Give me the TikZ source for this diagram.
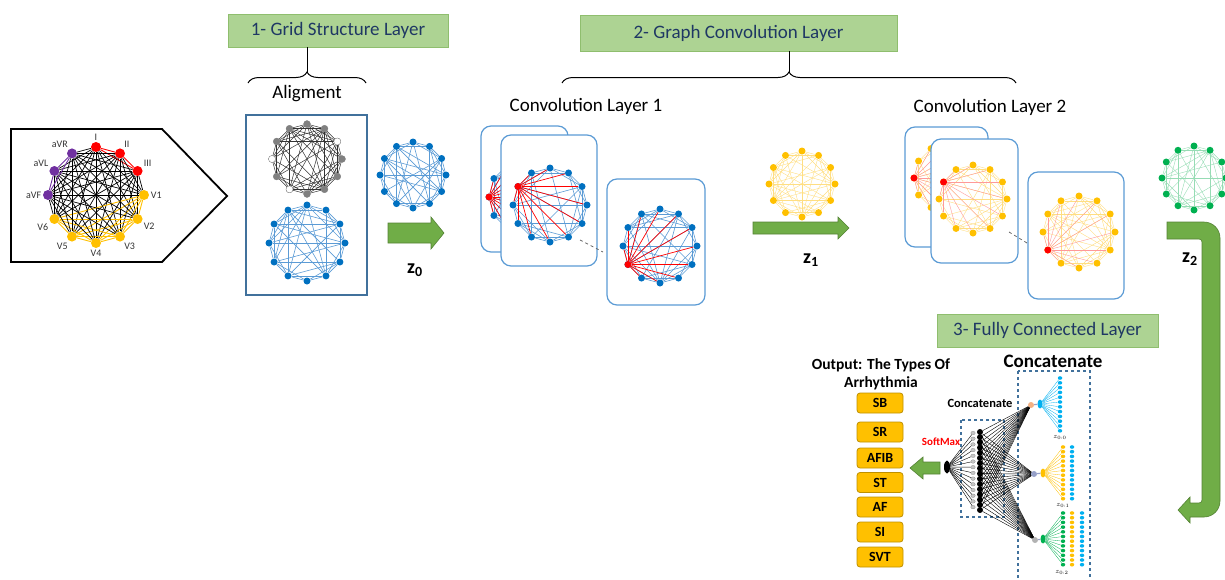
\documentclass[tikz,border=0pt]{standalone}
\usepackage{fontspec}
\setmainfont{Carlito}
\usetikzlibrary{arrows.meta, positioning, calc, decorations.pathreplacing, shapes.geometric}

\definecolor{titlegreen}{RGB}{173,211,147}
\definecolor{titleedge}{RGB}{143,190,110}
\definecolor{titleink}{RGB}{31,56,100}
\definecolor{netblue}{RGB}{0,112,192}
\definecolor{edgeblue}{RGB}{91,155,213}
\definecolor{cardblue}{RGB}{91,155,213}
\definecolor{boxblue}{RGB}{65,113,156}
\definecolor{ecgyellow}{RGB}{255,192,0}
\definecolor{paleyellow}{RGB}{255,222,130}
\definecolor{ecgpurple}{RGB}{112,48,160}
\definecolor{ecggreen}{RGB}{0,176,80}
\definecolor{palegreen}{RGB}{150,220,180}
\definecolor{arrowgreen}{RGB}{112,173,71}
\definecolor{arrowedge}{RGB}{84,130,53}
\definecolor{classedge}{RGB}{191,144,0}
\definecolor{skyblue}{RGB}{0,176,240}
\definecolor{salmon}{RGB}{244,177,131}
\definecolor{slate}{RGB}{150,160,200}

% 12 dots on a circle, ring edges always, other chords at random
% #1 name, #2 cx, #3 cy, #4 radius, #5 dot style, #6 edge style, #7 seed, #8 density
\newcommand{\ringgraph}[8]{%
  \foreach \i in {1,...,12}{
    \node[#5] (#1-\i) at ({#2+#4*cos(90-30*(\i-1))},{#3-#4*sin(90-30*(\i-1))}) {};
  }
  \pgfmathsetseed{#7}
  \foreach \i in {1,...,11}{
    \pgfmathtruncatemacro{\jfrom}{\i+1}
    \foreach \j in {\jfrom,...,12}{
      \pgfmathtruncatemacro{\gap}{min(\j-\i,12-\j+\i)}
      \pgfmathsetmacro{\coin}{rnd}
      \pgfmathtruncatemacro{\keep}{or(\gap<3,\coin<#8)}
      \ifnum\keep=1 \draw[#6] (#1-\i) -- (#1-\j);\fi
    }
  }
}

\begin{document}
\begin{tikzpicture}[x=1pt, y=-1pt,
    ttl/.style={draw=titleedge, fill=titlegreen, text=titleink, inner sep=0,
                font=\fontsize{19}{22}\selectfont},
    hdr/.style={font=\fontsize{19}{22}\selectfont},
    lead/.style={circle, inner sep=0, minimum size=10},
    leadtxt/.style={font=\fontsize{10}{12}\selectfont, text=black!80, inner sep=1.5},
    bdot/.style={circle, inner sep=0, minimum size=7, fill=netblue},
    ydot/.style={circle, inner sep=0, minimum size=7, fill=ecgyellow},
    gdot/.style={circle, inner sep=0, minimum size=7, fill=ecggreen},
    kdot/.style={circle, inner sep=0, minimum size=7, fill=gray, draw=gray, line width=0.3},
    bedge/.style={edgeblue, line width=0.6},
    yedge/.style={paleyellow, line width=0.4},
    gedge/.style={palegreen, line width=0.4},
    kedge/.style={black!80, line width=0.5},
    hot/.style={red, line width=0.7},
    softhot/.style={red!40, line width=0.4},
    card/.style={draw=cardblue, fill=white, line width=1.2, rounded corners=10},
    garrow/.style={fill=arrowgreen, draw=arrowedge, line width=0.6},
    zlbl/.style={font=\fontsize{20}{22}\selectfont\bfseries},
    cls/.style={draw=classedge, fill=ecgyellow, rounded corners=3, line width=0.8,
                minimum width=46, minimum height=20, inner sep=0,
                font=\fontsize{14}{16}\selectfont\bfseries},
    wire/.style={black, line width=0.4},
    colbox/.style={boxblue, dashed, line width=1.1},
    coldot/.style={ellipse, inner sep=0, minimum width=4.5, minimum height=3.6},
    tinylbl/.style={font=\fontsize{7}{8}\selectfont, inner sep=0}
  ]
  \useasboundingbox (0,0) rectangle (1225,579);
  \clip (0,0) rectangle (1225,579);

  % layer titles and braces
  \node[ttl, minimum width=220, minimum height=33] (ttlA) at (338,30.5) {1- Grid Structure Layer};
  \node[ttl, minimum width=317, minimum height=36] (ttlB) at (738.5,33) {2- Graph Convolution Layer};
  \node[ttl, minimum width=221, minimum height=33] (ttlC) at (1047.5,330.5) {3- Fully Connected Layer};
  \draw[decorate, decoration={brace, amplitude=11}, line width=1] (248,83) -- (366,83);
  \draw[decorate, decoration={brace, amplitude=11}, line width=1] (562,83) -- (1016,83);
  \coordinate (tipA) at (307,72);
  \coordinate (tipB) at (789,72);
  \draw[line width=1] (tipA) -- (tipA |- ttlA.south);
  \draw[line width=1] (tipB) -- (tipB |- ttlB.south);
  \node[hdr] (alig) at (307,94) {Aligment};
  \node[hdr] (conv1) at (586,106) {Convolution Layer 1};
  \node[hdr] (conv2) at (990,107) {Convolution Layer 2};

  % ECG leads
  \draw[line width=1.8] (11,129) -- (162,129) -- (227,196) -- (162,262) -- (11,262) -- cycle;
  \foreach \i/\lbl/\col in {1/I/red, 2/II/red, 3/III/red, 4/V1/ecgyellow, 5/V2/ecgyellow,
      6/V3/ecgyellow, 7/V4/ecgyellow, 8/V5/ecgyellow, 9/V6/ecgyellow,
      10/aVF/ecgpurple, 11/aVL/ecgpurple, 12/aVR/ecgpurple}{
    \pgfmathsetmacro{\ang}{90-30*(\i-1)}
    \node[lead, fill=\col, label={[leadtxt]\ang:\lbl}] (in-\i) at ({96+48*cos(\ang)},{195-48*sin(\ang)}) {};
  }
  \foreach \i in {1,...,11}{
    \pgfmathtruncatemacro{\jfrom}{\i+1}
    \foreach \j in {\jfrom,...,12}{
      \pgfmathtruncatemacro{\gi}{(\i>3)+(\i>9)}
      \pgfmathtruncatemacro{\gj}{(\j>3)+(\j>9)}
      \ifnum\gi=\gj
        \edef\ecol{\ifcase\gi red\or ecgyellow\or ecgpurple\fi}
        \draw[draw=\ecol, line width=0.9] (in-\i) -- (in-\j);
      \else
        \draw[black, line width=0.7] (in-\i) -- (in-\j);
      \fi
    }
  }

  % alignment
  \node[draw=boxblue, line width=2.5, minimum width=121, minimum height=180] (alignbox) at (306.5,205) {};
  \ringgraph{K}{307}{159}{35}{kdot}{kedge}{7}{0.75}
  \foreach \k in {3,8,10}{\node[kdot, fill=white] (Kw-\k) at (K-\k) {};}
  \ringgraph{L}{307}{243}{38}{bdot}{bedge}{11}{0.45}

  % z0
  \ringgraph{Z}{413}{175}{33}{bdot}{bedge}{23}{0.45}
  \draw[garrow] (388,223) -- (431,223) -- (431,217) -- (444,233) -- (431,249) -- (431,243) -- (388,243) -- cycle;
  \node[zlbl] (zlab0) at (415,270) {z\textsubscript{0}};

  % convolution layer 1
  \node[card, minimum width=87, minimum height=126] (cardA) at (524.5,189) {};
  \ringgraph{A}{526}{197}{37}{bdot}{bedge}{31}{0.4}
  \node[bdot, fill=red] (A-hot) at (A-10) {};
  \foreach \k in {1,...,9,11,12} \draw[hot] (A-hot) -- (A-\k);
  \node[card, minimum width=96, minimum height=131] (cardB) at (549,200.5) {};
  \ringgraph{B}{550}{205}{37}{bdot}{bedge}{37}{0.4}
  \node[bdot, fill=red] (B-hot) at (B-11) {};
  \foreach \k in {1,...,10,12} \draw[hot] (B-hot) -- (B-\k);
  \node[card, minimum width=98, minimum height=126] (cardC) at (656,242) {};
  \ringgraph{C}{660}{246}{37}{bdot}{bedge}{41}{0.4}
  \node[bdot, fill=red] (C-hot) at (C-9) {};
  \foreach \k in {1,...,8,10,11,12} \draw[hot] (C-hot) -- (C-\k);
  \coordinate (gapB) at (580,240);
  \coordinate (gapC) at (603,252);
  \draw[dashed, black!60, line width=0.8] (gapB) -- (gapC);

  % z1
  \ringgraph{Y}{802}{184}{33}{ydot}{yedge}{53}{0.55}
  \draw[garrow] (753,222) -- (838,222) -- (838,217) -- (849,228) -- (838,239) -- (838,234) -- (753,234) -- cycle;
  \node[zlbl] (zlab1) at (811,260) {z\textsubscript{1}};

  % convolution layer 2
  \node[card, minimum width=83, minimum height=120] (cardD) at (946.5,187) {};
  \ringgraph{D}{948}{178}{34}{ydot}{yedge}{61}{0.5}
  \node[ydot, fill=red] (D-hot) at (D-10) {};
  \foreach \k in {1,...,9,11,12} \draw[softhot] (D-hot) -- (D-\k);
  \node[card, minimum width=87, minimum height=124] (cardE) at (974.5,201) {};
  \ringgraph{E}{973}{199}{34}{ydot}{yedge}{67}{0.5}
  \node[ydot, fill=red] (E-hot) at (E-11) {};
  \foreach \k in {1,...,10,12} \draw[softhot] (E-hot) -- (E-\k);
  \node[card, minimum width=96, minimum height=127] (cardF) at (1076,235.5) {};
  \ringgraph{F}{1079}{232}{36}{ydot}{yedge}{71}{0.5}
  \node[ydot, fill=red] (F-hot) at (F-9) {};
  \foreach \k in {1,...,8,10,11,12} \draw[softhot] (F-hot) -- (F-\k);
  \coordinate (gapE) at (1009,232);
  \coordinate (gapF) at (1027,243);
  \draw[dashed, black!60, line width=0.8] (gapE) -- (gapF);

  % z2 and the turn down
  \ringgraph{G}{1194}{178}{32}{gdot}{gedge}{83}{0.55}
  \draw[garrow] (1167,222) [rounded corners=16]-- (1220,222) -- (1220,517)
    [sharp corners]-- (1190,517) -- (1190,523) -- (1178,510) -- (1190,497) -- (1190,503)
    [rounded corners=3]-- (1202,503) -- (1202,239) [sharp corners]-- (1167,239) -- cycle;
  \node[zlbl] (zlab2) at (1190,259) {z\textsubscript{2}};

  % classifier
  \node[font=\fontsize{15.5}{18}\selectfont\bfseries, align=center] (outttl) at (881,374) {Output: The Types Of\\Arrhythmia};
  \foreach \n/\t/\y in {sb/SB/403, sr/SR/432, afib/AFIB/458, st/ST/482.5, af/AF/507, si/SI/532, svt/SVT/557}
    \node[cls] (\n) at (880,\y) {\t};
  \draw[garrow] (910,468) -- (923,457) -- (923,462) -- (940,462) -- (940,474) -- (923,474) -- (923,479) -- cycle;

  \node[font=\fontsize{19}{22}\selectfont\bfseries] (catbig) at (1053,361) {Concatenate};
  \node[font=\fontsize{12.5}{14}\selectfont\bfseries] (catsmall) at (980,403) {Concatenate};
  \node[font=\fontsize{11}{13}\selectfont\bfseries, text=red] (softlbl) at (941,442) {SoftMax};
  \draw[colbox] (961,420) rectangle (1004,517);
  \draw[colbox] (1018,371) rectangle (1090,582);

  \node[ellipse, fill=black, inner sep=0, minimum width=6, minimum height=13] (soft) at (947,467) {};
  \foreach \k in {0,...,13}{
    \node[coldot, fill=gray!45, draw=gray, line width=0.2] (g-\k) at (973,{433+\k*5.7}) {};
    \draw[wire] (soft) -- (g-\k);
  }
  \node[circle, fill=salmon, inner sep=0, minimum size=6] (hub-1) at (1031,405) {};
  \node[circle, fill=slate, inner sep=0, minimum size=6] (hub-2) at (1034,474) {};
  \node[circle, fill=gray!60, inner sep=0, minimum size=6] (hub-3) at (1035,540) {};
  \foreach \k in {0,...,15}{
    \node[ellipse, fill=black, inner sep=0, minimum width=6, minimum height=6] (h-\k) at (980,{432+\k*5.2}) {};
    \foreach \m in {1,2,3} \draw[wire] (h-\k) -- (hub-\m);
  }

  % concatenated features
  \node[ellipse, fill=skyblue, inner sep=0, minimum width=5, minimum height=9] (fan-1) at (1040,404) {};
  \node[ellipse, fill=ecgyellow, inner sep=0, minimum width=5, minimum height=9] (fan-2) at (1043,473) {};
  \node[ellipse, fill=ecggreen, inner sep=0, minimum width=5, minimum height=9] (fan-3) at (1043,539) {};
  \foreach \m in {1,2,3} \draw[line width=1.2, slate] (hub-\m) -- (fan-\m);
  \foreach \k in {0,...,11}{
    \node[coldot, fill=skyblue] (ca-\k) at (1060,{378+\k*4.8}) {};
    \draw[skyblue, line width=0.3] (fan-1) -- (ca-\k);
    \node[coldot, fill=ecgyellow] (cb-\k) at (1063,{447+\k*4.7}) {};
    \node[coldot, fill=skyblue] (cbb-\k) at (1072,{447+\k*4.7}) {};
    \draw[ecgyellow, line width=0.3] (fan-2) -- (cb-\k);
    \node[coldot, fill=ecggreen] (cc-\k) at (1063,{513+\k*4.7}) {};
    \node[coldot, fill=ecgyellow] (ccy-\k) at (1072,{513+\k*4.7}) {};
    \node[coldot, fill=skyblue] (ccb-\k) at (1082,{513+\k*4.7}) {};
    \draw[ecggreen, line width=0.3] (fan-3) -- (cc-\k);
  }
  \node[tinylbl] (lz00) at (1060,437) {$z_{0:0}$};
  \node[tinylbl] (lz01) at (1063,505) {$z_{0:1}$};
  \node[tinylbl] (lz02) at (1062,572) {$z_{0:2}$};
\end{tikzpicture}
\end{document}
